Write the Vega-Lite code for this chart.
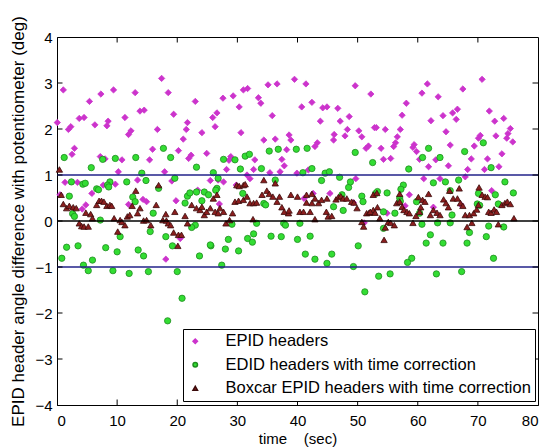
{
"$schema":"https://vega.github.io/schema/vega-lite/v6.json",
"width":481,"height":368,
"autosize":{"type":"none"},
"padding":{"left":57,"top":37,"right":9,"bottom":43},
"background":"white",
"config":{
 "view":{"stroke":"#000","strokeWidth":1},
 "font":"Liberation Sans",
 "axis":{"grid":false,"domainColor":"#000","tickColor":"#000","tickSize":5,"labelFont":"Liberation Sans","labelFontSize":15,"labelColor":"#000","titleFont":"Liberation Sans","titleFontSize":15,"titleFontWeight":"normal","titleColor":"#000"}
},
"layer":[
{
"data":{"values":[
{"t":0.05,"v":2.14,"s":"EPID headers"},{"t":1.05,"v":2.85,"s":"EPID headers"},{"t":1.9,"v":1.99,"s":"EPID headers"},{"t":2.3,"v":2.05,"s":"EPID headers"},{"t":2.5,"v":1.45,"s":"EPID headers"},{"t":2.9,"v":1.58,"s":"EPID headers"},{"t":3.7,"v":2.23,"s":"EPID headers"},{"t":4.5,"v":2.25,"s":"EPID headers"},{"t":5.4,"v":2.6,"s":"EPID headers"},{"t":6.3,"v":2.09,"s":"EPID headers"},{"t":7.2,"v":1.4,"s":"EPID headers"},{"t":7.3,"v":2.76,"s":"EPID headers"},{"t":8.0,"v":1.35,"s":"EPID headers"},{"t":8.3,"v":2.07,"s":"EPID headers"},{"t":8.5,"v":2.17,"s":"EPID headers"},{"t":9.4,"v":2.85,"s":"EPID headers"},{"t":10.2,"v":1.07,"s":"EPID headers"},{"t":10.8,"v":1.33,"s":"EPID headers"},{"t":11.3,"v":2.25,"s":"EPID headers"},{"t":11.9,"v":1.88,"s":"EPID headers"},{"t":12.3,"v":1.96,"s":"EPID headers"},{"t":13.0,"v":2.79,"s":"EPID headers"},{"t":13.4,"v":0.89,"s":"EPID headers"},{"t":13.8,"v":2.39,"s":"EPID headers"},{"t":14.5,"v":2.41,"s":"EPID headers"},{"t":15.4,"v":1.33,"s":"EPID headers"},{"t":15.9,"v":1.56,"s":"EPID headers"},{"t":16.7,"v":1.99,"s":"EPID headers"},{"t":17.4,"v":3.1,"s":"EPID headers"},{"t":17.9,"v":1.07,"s":"EPID headers"},{"t":18.5,"v":2.79,"s":"EPID headers"},{"t":19.4,"v":2.32,"s":"EPID headers"},{"t":20.2,"v":1.53,"s":"EPID headers"},{"t":21.0,"v":1.78,"s":"EPID headers"},{"t":21.5,"v":1.99,"s":"EPID headers"},{"t":21.7,"v":2.14,"s":"EPID headers"},{"t":21.9,"v":1.36,"s":"EPID headers"},{"t":22.3,"v":1.43,"s":"EPID headers"},{"t":23.0,"v":2.6,"s":"EPID headers"},{"t":24.1,"v":1.92,"s":"EPID headers"},{"t":24.9,"v":1.47,"s":"EPID headers"},{"t":25.5,"v":0.88,"s":"EPID headers"},{"t":25.9,"v":2.25,"s":"EPID headers"},{"t":26.3,"v":2.05,"s":"EPID headers"},{"t":26.6,"v":2.35,"s":"EPID headers"},{"t":1.33,"v":0.84,"s":"EPID headers"},{"t":3.4,"v":0.84,"s":"EPID headers"},{"t":5.8,"v":0.6,"s":"EPID headers"},{"t":4.8,"v":0.35,"s":"EPID headers"},{"t":4.2,"v":0.26,"s":"EPID headers"},{"t":7.7,"v":0.78,"s":"EPID headers"},{"t":9.7,"v":0.8,"s":"EPID headers"},{"t":14.3,"v":0.47,"s":"EPID headers"},{"t":14.9,"v":0.42,"s":"EPID headers"},{"t":11.9,"v":0.36,"s":"EPID headers"},{"t":19.1,"v":0.87,"s":"EPID headers"},{"t":19.8,"v":0.44,"s":"EPID headers"},{"t":23.4,"v":0.67,"s":"EPID headers"},{"t":20.5,"v":-0.38,"s":"EPID headers"},{"t":18.1,"v":-0.83,"s":"EPID headers"},{"t":0.5,"v":0.57,"s":"EPID headers"},{"t":27.6,"v":2.67,"s":"EPID headers"},{"t":29.3,"v":2.72,"s":"EPID headers"},{"t":30.3,"v":2.48,"s":"EPID headers"},{"t":31.0,"v":2.85,"s":"EPID headers"},{"t":31.7,"v":2.88,"s":"EPID headers"},{"t":30.6,"v":1.92,"s":"EPID headers"},{"t":33.5,"v":2.68,"s":"EPID headers"},{"t":33.9,"v":2.56,"s":"EPID headers"},{"t":34.4,"v":1.76,"s":"EPID headers"},{"t":35.1,"v":2.96,"s":"EPID headers"},{"t":35.8,"v":2.29,"s":"EPID headers"},{"t":36.3,"v":1.78,"s":"EPID headers"},{"t":36.6,"v":2.98,"s":"EPID headers"},{"t":38.2,"v":1.55,"s":"EPID headers"},{"t":38.6,"v":1.87,"s":"EPID headers"},{"t":38.9,"v":1.76,"s":"EPID headers"},{"t":39.5,"v":3.08,"s":"EPID headers"},{"t":40.7,"v":2.48,"s":"EPID headers"},{"t":41.4,"v":2.98,"s":"EPID headers"},{"t":42.4,"v":2.58,"s":"EPID headers"},{"t":42.9,"v":1.62,"s":"EPID headers"},{"t":43.3,"v":1.7,"s":"EPID headers"},{"t":43.8,"v":2.17,"s":"EPID headers"},{"t":44.2,"v":2.46,"s":"EPID headers"},{"t":44.9,"v":2.48,"s":"EPID headers"},{"t":46.0,"v":1.76,"s":"EPID headers"},{"t":46.1,"v":1.88,"s":"EPID headers"},{"t":46.7,"v":2.45,"s":"EPID headers"},{"t":47.1,"v":2.17,"s":"EPID headers"},{"t":47.9,"v":1.85,"s":"EPID headers"},{"t":48.3,"v":1.99,"s":"EPID headers"},{"t":48.6,"v":2.27,"s":"EPID headers"},{"t":49.6,"v":2.94,"s":"EPID headers"},{"t":50.2,"v":1.96,"s":"EPID headers"},{"t":50.7,"v":1.83,"s":"EPID headers"},{"t":51.4,"v":1.58,"s":"EPID headers"},{"t":51.8,"v":1.63,"s":"EPID headers"},{"t":52.2,"v":2.76,"s":"EPID headers"},{"t":52.8,"v":2.03,"s":"EPID headers"},{"t":53.1,"v":2.03,"s":"EPID headers"},{"t":28.2,"v":1.12,"s":"EPID headers"},{"t":28.6,"v":1.32,"s":"EPID headers"},{"t":28.9,"v":1.4,"s":"EPID headers"},{"t":32.9,"v":1.33,"s":"EPID headers"},{"t":32.7,"v":1.12,"s":"EPID headers"},{"t":37.4,"v":1.34,"s":"EPID headers"},{"t":37.8,"v":1.2,"s":"EPID headers"},{"t":35.4,"v":1.05,"s":"EPID headers"},{"t":37.1,"v":1.07,"s":"EPID headers"},{"t":31.6,"v":1.0,"s":"EPID headers"},{"t":39.9,"v":1.04,"s":"EPID headers"},{"t":41.8,"v":1.11,"s":"EPID headers"},{"t":54.6,"v":1.99,"s":"EPID headers"},{"t":53.9,"v":1.58,"s":"EPID headers"},{"t":54.3,"v":1.34,"s":"EPID headers"},{"t":55.5,"v":1.36,"s":"EPID headers"},{"t":56.0,"v":1.62,"s":"EPID headers"},{"t":56.3,"v":1.7,"s":"EPID headers"},{"t":56.6,"v":1.83,"s":"EPID headers"},{"t":57.1,"v":1.99,"s":"EPID headers"},{"t":57.4,"v":2.3,"s":"EPID headers"},{"t":58.1,"v":2.56,"s":"EPID headers"},{"t":59.2,"v":1.6,"s":"EPID headers"},{"t":59.4,"v":1.66,"s":"EPID headers"},{"t":59.8,"v":1.51,"s":"EPID headers"},{"t":60.3,"v":1.34,"s":"EPID headers"},{"t":60.7,"v":2.78,"s":"EPID headers"},{"t":61.6,"v":2.98,"s":"EPID headers"},{"t":61.8,"v":1.18,"s":"EPID headers"},{"t":62.2,"v":2.18,"s":"EPID headers"},{"t":63.0,"v":1.33,"s":"EPID headers"},{"t":63.4,"v":2.7,"s":"EPID headers"},{"t":64.2,"v":2.29,"s":"EPID headers"},{"t":64.7,"v":1.94,"s":"EPID headers"},{"t":65.1,"v":1.2,"s":"EPID headers"},{"t":65.4,"v":1.65,"s":"EPID headers"},{"t":65.8,"v":2.35,"s":"EPID headers"},{"t":66.4,"v":2.21,"s":"EPID headers"},{"t":66.6,"v":2.43,"s":"EPID headers"},{"t":67.5,"v":2.87,"s":"EPID headers"},{"t":68.3,"v":1.12,"s":"EPID headers"},{"t":68.9,"v":1.35,"s":"EPID headers"},{"t":69.4,"v":1.63,"s":"EPID headers"},{"t":70.1,"v":1.8,"s":"EPID headers"},{"t":70.4,"v":1.86,"s":"EPID headers"},{"t":70.7,"v":3.08,"s":"EPID headers"},{"t":71.1,"v":1.12,"s":"EPID headers"},{"t":71.6,"v":1.35,"s":"EPID headers"},{"t":71.9,"v":2.39,"s":"EPID headers"},{"t":72.8,"v":2.17,"s":"EPID headers"},{"t":73.0,"v":1.85,"s":"EPID headers"},{"t":73.5,"v":1.18,"s":"EPID headers"},{"t":74.0,"v":1.46,"s":"EPID headers"},{"t":74.3,"v":2.23,"s":"EPID headers"},{"t":74.8,"v":1.8,"s":"EPID headers"},{"t":75.0,"v":1.9,"s":"EPID headers"},{"t":75.4,"v":2.01,"s":"EPID headers"},{"t":75.8,"v":1.72,"s":"EPID headers"},{"t":61.0,"v":0.92,"s":"EPID headers"},{"t":63.7,"v":0.92,"s":"EPID headers"},{"t":67.9,"v":0.96,"s":"EPID headers"},{"t":26.8,"v":0.89,"s":"EPID headers"},{"t":27.7,"v":0.85,"s":"EPID headers"},{"t":29.8,"v":0.78,"s":"EPID headers"},{"t":32.1,"v":0.92,"s":"EPID headers"},{"t":27.0,"v":0.37,"s":"EPID headers"},{"t":42.6,"v":0.6,"s":"EPID headers"},{"t":45.4,"v":0.6,"s":"EPID headers"},{"t":49.7,"v":0.92,"s":"EPID headers"},{"t":49.3,"v":0.4,"s":"EPID headers"},{"t":51.1,"v":-0.04,"s":"EPID headers"},{"t":41.1,"v":0.49,"s":"EPID headers"},{"t":58.6,"v":0.57,"s":"EPID headers"},{"t":57.9,"v":0.33,"s":"EPID headers"},{"t":62.6,"v":0.3,"s":"EPID headers"},{"t":67.2,"v":0.35,"s":"EPID headers"},{"t":72.3,"v":0.66,"s":"EPID headers"},{"t":54.9,"v":0.17,"s":"EPID headers"},
{"t":1.2,"v":1.38,"s":"EDID headers with time correction"},{"t":5.7,"v":1.16,"s":"EDID headers with time correction"},{"t":7.6,"v":1.34,"s":"EDID headers with time correction"},{"t":9.7,"v":1.36,"s":"EDID headers with time correction"},{"t":13.1,"v":1.38,"s":"EDID headers with time correction"},{"t":14.1,"v":1.04,"s":"EDID headers with time correction"},{"t":14.8,"v":0.88,"s":"EDID headers with time correction"},{"t":17.7,"v":1.58,"s":"EDID headers with time correction"},{"t":18.9,"v":1.38,"s":"EDID headers with time correction"},{"t":19.6,"v":0.93,"s":"EDID headers with time correction"},{"t":23.2,"v":1.17,"s":"EDID headers with time correction"},{"t":26.0,"v":1.05,"s":"EDID headers with time correction"},{"t":26.8,"v":0.93,"s":"EDID headers with time correction"},{"t":2.4,"v":0.85,"s":"EDID headers with time correction"},{"t":4.3,"v":0.8,"s":"EDID headers with time correction"},{"t":4.7,"v":0.82,"s":"EDID headers with time correction"},{"t":11.6,"v":0.85,"s":"EDID headers with time correction"},{"t":8.8,"v":0.85,"s":"EDID headers with time correction"},{"t":2.05,"v":0.54,"s":"EDID headers with time correction"},{"t":2.6,"v":0.16,"s":"EDID headers with time correction"},{"t":2.9,"v":0.1,"s":"EDID headers with time correction"},{"t":7.2,"v":0.02,"s":"EDID headers with time correction"},{"t":6.6,"v":0.7,"s":"EDID headers with time correction"},{"t":6.9,"v":0.68,"s":"EDID headers with time correction"},{"t":8.4,"v":0.78,"s":"EDID headers with time correction"},{"t":8.6,"v":0.74,"s":"EDID headers with time correction"},{"t":12.6,"v":0.52,"s":"EDID headers with time correction"},{"t":13.0,"v":0.42,"s":"EDID headers with time correction"},{"t":16.0,"v":0.17,"s":"EDID headers with time correction"},{"t":16.9,"v":0.71,"s":"EDID headers with time correction"},{"t":21.3,"v":0.39,"s":"EDID headers with time correction"},{"t":21.7,"v":0.54,"s":"EDID headers with time correction"},{"t":22.1,"v":0.61,"s":"EDID headers with time correction"},{"t":23.2,"v":0.63,"s":"EDID headers with time correction"},{"t":24.1,"v":0.44,"s":"EDID headers with time correction"},{"t":24.5,"v":0.63,"s":"EDID headers with time correction"},{"t":23.0,"v":-0.09,"s":"EDID headers with time correction"},{"t":22.4,"v":-0.14,"s":"EDID headers with time correction"},{"t":25.2,"v":0.57,"s":"EDID headers with time correction"},{"t":26.6,"v":0.71,"s":"EDID headers with time correction"},{"t":10.5,"v":-0.34,"s":"EDID headers with time correction"},{"t":15.5,"v":-0.23,"s":"EDID headers with time correction"},{"t":18.1,"v":-0.34,"s":"EDID headers with time correction"},{"t":1.6,"v":-0.57,"s":"EDID headers with time correction"},{"t":3.5,"v":-0.54,"s":"EDID headers with time correction"},{"t":0.8,"v":-0.81,"s":"EDID headers with time correction"},{"t":5.9,"v":-0.85,"s":"EDID headers with time correction"},{"t":8.1,"v":-0.58,"s":"EDID headers with time correction"},{"t":10.0,"v":-0.67,"s":"EDID headers with time correction"},{"t":13.5,"v":-0.63,"s":"EDID headers with time correction"},{"t":14.4,"v":-0.76,"s":"EDID headers with time correction"},{"t":19.2,"v":-0.54,"s":"EDID headers with time correction"},{"t":23.7,"v":-0.76,"s":"EDID headers with time correction"},{"t":25.6,"v":-0.54,"s":"EDID headers with time correction"},{"t":4.4,"v":-0.96,"s":"EDID headers with time correction"},{"t":5.2,"v":-1.08,"s":"EDID headers with time correction"},{"t":9.3,"v":-1.08,"s":"EDID headers with time correction"},{"t":12.0,"v":-1.14,"s":"EDID headers with time correction"},{"t":15.2,"v":-1.1,"s":"EDID headers with time correction"},{"t":20.0,"v":-1.1,"s":"EDID headers with time correction"},{"t":20.8,"v":-1.68,"s":"EDID headers with time correction"},{"t":18.4,"v":-2.17,"s":"EDID headers with time correction"},{"t":26.4,"v":0.67,"s":"EDID headers with time correction"},{"t":30.9,"v":0.6,"s":"EDID headers with time correction"},{"t":34.4,"v":0.38,"s":"EDID headers with time correction"},{"t":34.7,"v":0.35,"s":"EDID headers with time correction"},{"t":37.7,"v":-0.05,"s":"EDID headers with time correction"},{"t":38.0,"v":-0.09,"s":"EDID headers with time correction"},{"t":40.4,"v":-0.05,"s":"EDID headers with time correction"},{"t":44.0,"v":0.88,"s":"EDID headers with time correction"},{"t":44.6,"v":1.04,"s":"EDID headers with time correction"},{"t":48.5,"v":0.73,"s":"EDID headers with time correction"},{"t":48.8,"v":0.85,"s":"EDID headers with time correction"},{"t":47.4,"v":0.57,"s":"EDID headers with time correction"},{"t":50.7,"v":0.54,"s":"EDID headers with time correction"},{"t":50.9,"v":0.42,"s":"EDID headers with time correction"},{"t":47.6,"v":0.23,"s":"EDID headers with time correction"},{"t":46.0,"v":0.31,"s":"EDID headers with time correction"},{"t":33.2,"v":-0.05,"s":"EDID headers with time correction"},{"t":29.1,"v":-0.07,"s":"EDID headers with time correction"},{"t":25.5,"v":-0.52,"s":"EDID headers with time correction"},{"t":28.5,"v":-0.4,"s":"EDID headers with time correction"},{"t":28.0,"v":-0.61,"s":"EDID headers with time correction"},{"t":30.2,"v":-0.65,"s":"EDID headers with time correction"},{"t":31.7,"v":-0.38,"s":"EDID headers with time correction"},{"t":32.7,"v":-0.28,"s":"EDID headers with time correction"},{"t":32.5,"v":-0.46,"s":"EDID headers with time correction"},{"t":35.6,"v":-0.33,"s":"EDID headers with time correction"},{"t":37.3,"v":-0.34,"s":"EDID headers with time correction"},{"t":40.0,"v":-0.4,"s":"EDID headers with time correction"},{"t":42.1,"v":-0.33,"s":"EDID headers with time correction"},{"t":41.3,"v":-0.72,"s":"EDID headers with time correction"},{"t":42.9,"v":-0.83,"s":"EDID headers with time correction"},{"t":44.9,"v":-0.92,"s":"EDID headers with time correction"},{"t":45.7,"v":-0.72,"s":"EDID headers with time correction"},{"t":50.1,"v":-0.54,"s":"EDID headers with time correction"},{"t":27.4,"v":-0.96,"s":"EDID headers with time correction"},{"t":49.3,"v":-0.99,"s":"EDID headers with time correction"},{"t":53.5,"v":-1.2,"s":"EDID headers with time correction"},{"t":51.2,"v":-1.54,"s":"EDID headers with time correction"},{"t":57.6,"v":0.78,"s":"EDID headers with time correction"},{"t":62.6,"v":0.83,"s":"EDID headers with time correction"},{"t":64.6,"v":0.85,"s":"EDID headers with time correction"},{"t":66.8,"v":0.89,"s":"EDID headers with time correction"},{"t":74.5,"v":0.85,"s":"EDID headers with time correction"},{"t":53.0,"v":0.6,"s":"EDID headers with time correction"},{"t":53.3,"v":0.64,"s":"EDID headers with time correction"},{"t":54.9,"v":0.61,"s":"EDID headers with time correction"},{"t":57.0,"v":0.5,"s":"EDID headers with time correction"},{"t":57.1,"v":0.43,"s":"EDID headers with time correction"},{"t":57.2,"v":0.69,"s":"EDID headers with time correction"},{"t":59.8,"v":0.42,"s":"EDID headers with time correction"},{"t":60.3,"v":0.17,"s":"EDID headers with time correction"},{"t":56.2,"v":0.17,"s":"EDID headers with time correction"},{"t":54.3,"v":0.2,"s":"EDID headers with time correction"},{"t":54.3,"v":-0.16,"s":"EDID headers with time correction"},{"t":60.7,"v":-0.07,"s":"EDID headers with time correction"},{"t":63.3,"v":-0.04,"s":"EDID headers with time correction"},{"t":65.4,"v":-0.04,"s":"EDID headers with time correction"},{"t":65.7,"v":0.13,"s":"EDID headers with time correction"},{"t":65.4,"v":0.66,"s":"EDID headers with time correction"},{"t":70.1,"v":0.6,"s":"EDID headers with time correction"},{"t":69.9,"v":0.37,"s":"EDID headers with time correction"},{"t":70.3,"v":0.34,"s":"EDID headers with time correction"},{"t":72.9,"v":0.57,"s":"EDID headers with time correction"},{"t":73.4,"v":0.37,"s":"EDID headers with time correction"},{"t":75.9,"v":0.61,"s":"EDID headers with time correction"},{"t":74.3,"v":-0.13,"s":"EDID headers with time correction"},{"t":71.8,"v":-0.11,"s":"EDID headers with time correction"},{"t":68.6,"v":-0.25,"s":"EDID headers with time correction"},{"t":62.1,"v":-0.3,"s":"EDID headers with time correction"},{"t":61.4,"v":-0.48,"s":"EDID headers with time correction"},{"t":64.2,"v":-0.48,"s":"EDID headers with time correction"},{"t":68.2,"v":-0.48,"s":"EDID headers with time correction"},{"t":71.4,"v":-0.34,"s":"EDID headers with time correction"},{"t":59.0,"v":-0.81,"s":"EDID headers with time correction"},{"t":58.3,"v":-0.9,"s":"EDID headers with time correction"},{"t":72.6,"v":-0.81,"s":"EDID headers with time correction"},{"t":55.4,"v":-1.15,"s":"EDID headers with time correction"},{"t":63.1,"v":-1.15,"s":"EDID headers with time correction"},{"t":67.3,"v":-1.1,"s":"EDID headers with time correction"},{"t":52.5,"v":1.27,"s":"EDID headers with time correction"},{"t":58.5,"v":1.13,"s":"EDID headers with time correction"},{"t":60.8,"v":1.38,"s":"EDID headers with time correction"},{"t":61.8,"v":1.58,"s":"EDID headers with time correction"},{"t":63.7,"v":1.38,"s":"EDID headers with time correction"},{"t":67.8,"v":1.51,"s":"EDID headers with time correction"},{"t":70.9,"v":1.7,"s":"EDID headers with time correction"},{"t":72.2,"v":1.16,"s":"EDID headers with time correction"},{"t":27.7,"v":1.34,"s":"EDID headers with time correction"},{"t":29.6,"v":1.33,"s":"EDID headers with time correction"},{"t":31.3,"v":1.41,"s":"EDID headers with time correction"},{"t":32.0,"v":1.45,"s":"EDID headers with time correction"},{"t":30.5,"v":1.13,"s":"EDID headers with time correction"},{"t":34.0,"v":1.14,"s":"EDID headers with time correction"},{"t":35.3,"v":1.52,"s":"EDID headers with time correction"},{"t":36.8,"v":1.56,"s":"EDID headers with time correction"},{"t":39.8,"v":1.56,"s":"EDID headers with time correction"},{"t":41.6,"v":1.58,"s":"EDID headers with time correction"},{"t":42.4,"v":1.14,"s":"EDID headers with time correction"},{"t":40.9,"v":1.05,"s":"EDID headers with time correction"},{"t":36.3,"v":0.89,"s":"EDID headers with time correction"},{"t":45.3,"v":1.07,"s":"EDID headers with time correction"},{"t":47.0,"v":0.95,"s":"EDID headers with time correction"},{"t":49.6,"v":1.49,"s":"EDID headers with time correction"},
{"t":0.4,"v":1.12,"s":"Boxcar EPID headers with time correction"},{"t":0.7,"v":0.57,"s":"Boxcar EPID headers with time correction"},{"t":1.05,"v":0.37,"s":"Boxcar EPID headers with time correction"},{"t":1.6,"v":0.28,"s":"Boxcar EPID headers with time correction"},{"t":2.05,"v":0.33,"s":"Boxcar EPID headers with time correction"},{"t":2.7,"v":0.3,"s":"Boxcar EPID headers with time correction"},{"t":3.2,"v":0.28,"s":"Boxcar EPID headers with time correction"},{"t":3.7,"v":-0.05,"s":"Boxcar EPID headers with time correction"},{"t":4.1,"v":-0.11,"s":"Boxcar EPID headers with time correction"},{"t":4.5,"v":-0.12,"s":"Boxcar EPID headers with time correction"},{"t":5.2,"v":-0.12,"s":"Boxcar EPID headers with time correction"},{"t":4.8,"v":0.18,"s":"Boxcar EPID headers with time correction"},{"t":5.6,"v":0.15,"s":"Boxcar EPID headers with time correction"},{"t":5.9,"v":0.06,"s":"Boxcar EPID headers with time correction"},{"t":6.6,"v":0.35,"s":"Boxcar EPID headers with time correction"},{"t":7.0,"v":0.44,"s":"Boxcar EPID headers with time correction"},{"t":7.4,"v":0.44,"s":"Boxcar EPID headers with time correction"},{"t":7.8,"v":0.42,"s":"Boxcar EPID headers with time correction"},{"t":8.3,"v":0.33,"s":"Boxcar EPID headers with time correction"},{"t":8.8,"v":0.35,"s":"Boxcar EPID headers with time correction"},{"t":9.1,"v":0.33,"s":"Boxcar EPID headers with time correction"},{"t":9.5,"v":0.06,"s":"Boxcar EPID headers with time correction"},{"t":10.1,"v":-0.23,"s":"Boxcar EPID headers with time correction"},{"t":10.5,"v":0.02,"s":"Boxcar EPID headers with time correction"},{"t":10.8,"v":-0.02,"s":"Boxcar EPID headers with time correction"},{"t":11.3,"v":-0.09,"s":"Boxcar EPID headers with time correction"},{"t":11.7,"v":0.1,"s":"Boxcar EPID headers with time correction"},{"t":12.1,"v":0.13,"s":"Boxcar EPID headers with time correction"},{"t":12.5,"v":0.33,"s":"Boxcar EPID headers with time correction"},{"t":13.4,"v":0.17,"s":"Boxcar EPID headers with time correction"},{"t":13.8,"v":0.28,"s":"Boxcar EPID headers with time correction"},{"t":13.1,"v":0.66,"s":"Boxcar EPID headers with time correction"},{"t":14.4,"v":0.01,"s":"Boxcar EPID headers with time correction"},{"t":14.9,"v":0.02,"s":"Boxcar EPID headers with time correction"},{"t":15.6,"v":-0.09,"s":"Boxcar EPID headers with time correction"},{"t":16.5,"v":0.35,"s":"Boxcar EPID headers with time correction"},{"t":16.9,"v":0.78,"s":"Boxcar EPID headers with time correction"},{"t":17.6,"v":0.02,"s":"Boxcar EPID headers with time correction"},{"t":18.2,"v":0.01,"s":"Boxcar EPID headers with time correction"},{"t":18.5,"v":-0.05,"s":"Boxcar EPID headers with time correction"},{"t":18.1,"v":0.15,"s":"Boxcar EPID headers with time correction"},{"t":18.9,"v":-0.09,"s":"Boxcar EPID headers with time correction"},{"t":19.4,"v":-0.25,"s":"Boxcar EPID headers with time correction"},{"t":19.6,"v":0.2,"s":"Boxcar EPID headers with time correction"},{"t":20.2,"v":-0.3,"s":"Boxcar EPID headers with time correction"},{"t":20.7,"v":-0.3,"s":"Boxcar EPID headers with time correction"},{"t":20.1,"v":-0.54,"s":"Boxcar EPID headers with time correction"},{"t":21.3,"v":0.11,"s":"Boxcar EPID headers with time correction"},{"t":21.7,"v":-0.05,"s":"Boxcar EPID headers with time correction"},{"t":22.4,"v":0.35,"s":"Boxcar EPID headers with time correction"},{"t":23.2,"v":0.28,"s":"Boxcar EPID headers with time correction"},{"t":23.8,"v":0.24,"s":"Boxcar EPID headers with time correction"},{"t":24.1,"v":0.31,"s":"Boxcar EPID headers with time correction"},{"t":24.5,"v":0.13,"s":"Boxcar EPID headers with time correction"},{"t":24.9,"v":0.2,"s":"Boxcar EPID headers with time correction"},{"t":25.5,"v":0.28,"s":"Boxcar EPID headers with time correction"},{"t":26.0,"v":0.49,"s":"Boxcar EPID headers with time correction"},{"t":26.3,"v":0.2,"s":"Boxcar EPID headers with time correction"},{"t":26.8,"v":0.17,"s":"Boxcar EPID headers with time correction"},{"t":26.6,"v":0.57,"s":"Boxcar EPID headers with time correction"},{"t":27.1,"v":0.28,"s":"Boxcar EPID headers with time correction"},{"t":27.7,"v":0.2,"s":"Boxcar EPID headers with time correction"},{"t":28.1,"v":-0.05,"s":"Boxcar EPID headers with time correction"},{"t":28.7,"v":0.02,"s":"Boxcar EPID headers with time correction"},{"t":29.2,"v":0.17,"s":"Boxcar EPID headers with time correction"},{"t":29.9,"v":0.78,"s":"Boxcar EPID headers with time correction"},{"t":30.3,"v":0.76,"s":"Boxcar EPID headers with time correction"},{"t":31.0,"v":0.78,"s":"Boxcar EPID headers with time correction"},{"t":31.3,"v":0.8,"s":"Boxcar EPID headers with time correction"},{"t":29.6,"v":0.42,"s":"Boxcar EPID headers with time correction"},{"t":30.2,"v":0.44,"s":"Boxcar EPID headers with time correction"},{"t":31.0,"v":0.46,"s":"Boxcar EPID headers with time correction"},{"t":31.6,"v":0.53,"s":"Boxcar EPID headers with time correction"},{"t":32.1,"v":0.39,"s":"Boxcar EPID headers with time correction"},{"t":32.7,"v":0.39,"s":"Boxcar EPID headers with time correction"},{"t":33.2,"v":0.4,"s":"Boxcar EPID headers with time correction"},{"t":32.6,"v":0.04,"s":"Boxcar EPID headers with time correction"},{"t":34.1,"v":0.57,"s":"Boxcar EPID headers with time correction"},{"t":34.4,"v":0.89,"s":"Boxcar EPID headers with time correction"},{"t":34.9,"v":0.66,"s":"Boxcar EPID headers with time correction"},{"t":35.3,"v":0.59,"s":"Boxcar EPID headers with time correction"},{"t":35.9,"v":0.53,"s":"Boxcar EPID headers with time correction"},{"t":36.3,"v":0.82,"s":"Boxcar EPID headers with time correction"},{"t":36.6,"v":0.42,"s":"Boxcar EPID headers with time correction"},{"t":37.0,"v":0.53,"s":"Boxcar EPID headers with time correction"},{"t":37.4,"v":0.3,"s":"Boxcar EPID headers with time correction"},{"t":37.8,"v":0.2,"s":"Boxcar EPID headers with time correction"},{"t":38.5,"v":0.17,"s":"Boxcar EPID headers with time correction"},{"t":38.6,"v":0.23,"s":"Boxcar EPID headers with time correction"},{"t":38.9,"v":0.57,"s":"Boxcar EPID headers with time correction"},{"t":40.0,"v":0.53,"s":"Boxcar EPID headers with time correction"},{"t":40.4,"v":0.2,"s":"Boxcar EPID headers with time correction"},{"t":41.0,"v":0.2,"s":"Boxcar EPID headers with time correction"},{"t":41.5,"v":0.57,"s":"Boxcar EPID headers with time correction"},{"t":42.4,"v":0.59,"s":"Boxcar EPID headers with time correction"},{"t":42.9,"v":0.49,"s":"Boxcar EPID headers with time correction"},{"t":41.5,"v":0.4,"s":"Boxcar EPID headers with time correction"},{"t":42.4,"v":0.39,"s":"Boxcar EPID headers with time correction"},{"t":42.1,"v":0.2,"s":"Boxcar EPID headers with time correction"},{"t":42.9,"v":0.04,"s":"Boxcar EPID headers with time correction"},{"t":43.5,"v":0.39,"s":"Boxcar EPID headers with time correction"},{"t":44.0,"v":0.46,"s":"Boxcar EPID headers with time correction"},{"t":44.9,"v":0.49,"s":"Boxcar EPID headers with time correction"},{"t":44.8,"v":0.2,"s":"Boxcar EPID headers with time correction"},{"t":45.1,"v":0.1,"s":"Boxcar EPID headers with time correction"},{"t":45.7,"v":0.11,"s":"Boxcar EPID headers with time correction"},{"t":46.4,"v":0.47,"s":"Boxcar EPID headers with time correction"},{"t":46.8,"v":0.52,"s":"Boxcar EPID headers with time correction"},{"t":47.2,"v":0.54,"s":"Boxcar EPID headers with time correction"},{"t":47.6,"v":0.49,"s":"Boxcar EPID headers with time correction"},{"t":48.2,"v":0.49,"s":"Boxcar EPID headers with time correction"},{"t":49.0,"v":0.42,"s":"Boxcar EPID headers with time correction"},{"t":49.4,"v":0.4,"s":"Boxcar EPID headers with time correction"},{"t":49.9,"v":0.28,"s":"Boxcar EPID headers with time correction"},{"t":50.7,"v":-0.02,"s":"Boxcar EPID headers with time correction"},{"t":51.0,"v":-0.12,"s":"Boxcar EPID headers with time correction"},{"t":51.5,"v":0.17,"s":"Boxcar EPID headers with time correction"},{"t":51.9,"v":0.18,"s":"Boxcar EPID headers with time correction"},{"t":52.6,"v":0.24,"s":"Boxcar EPID headers with time correction"},{"t":52.6,"v":0.57,"s":"Boxcar EPID headers with time correction"},{"t":53.2,"v":0.61,"s":"Boxcar EPID headers with time correction"},{"t":52.1,"v":0.2,"s":"Boxcar EPID headers with time correction"},{"t":52.9,"v":0.18,"s":"Boxcar EPID headers with time correction"},{"t":53.3,"v":0.3,"s":"Boxcar EPID headers with time correction"},{"t":53.7,"v":0.06,"s":"Boxcar EPID headers with time correction"},{"t":54.6,"v":-0.14,"s":"Boxcar EPID headers with time correction"},{"t":54.4,"v":-0.41,"s":"Boxcar EPID headers with time correction"},{"t":55.1,"v":-0.02,"s":"Boxcar EPID headers with time correction"},{"t":55.5,"v":-0.04,"s":"Boxcar EPID headers with time correction"},{"t":56.1,"v":-0.09,"s":"Boxcar EPID headers with time correction"},{"t":56.5,"v":0.39,"s":"Boxcar EPID headers with time correction"},{"t":57.0,"v":0.42,"s":"Boxcar EPID headers with time correction"},{"t":57.4,"v":0.31,"s":"Boxcar EPID headers with time correction"},{"t":57.7,"v":0.24,"s":"Boxcar EPID headers with time correction"},{"t":57.0,"v":0.59,"s":"Boxcar EPID headers with time correction"},{"t":58.2,"v":0.2,"s":"Boxcar EPID headers with time correction"},{"t":58.6,"v":0.17,"s":"Boxcar EPID headers with time correction"},{"t":59.2,"v":-0.04,"s":"Boxcar EPID headers with time correction"},{"t":59.7,"v":0.11,"s":"Boxcar EPID headers with time correction"},{"t":60.3,"v":0.2,"s":"Boxcar EPID headers with time correction"},{"t":60.1,"v":0.52,"s":"Boxcar EPID headers with time correction"},{"t":60.8,"v":0.46,"s":"Boxcar EPID headers with time correction"},{"t":61.2,"v":0.42,"s":"Boxcar EPID headers with time correction"},{"t":60.5,"v":0.3,"s":"Boxcar EPID headers with time correction"},{"t":61.8,"v":0.59,"s":"Boxcar EPID headers with time correction"},{"t":62.1,"v":0.13,"s":"Boxcar EPID headers with time correction"},{"t":62.6,"v":0.24,"s":"Boxcar EPID headers with time correction"},{"t":63.2,"v":0.18,"s":"Boxcar EPID headers with time correction"},{"t":63.7,"v":0.13,"s":"Boxcar EPID headers with time correction"},{"t":64.3,"v":0.47,"s":"Boxcar EPID headers with time correction"},{"t":64.7,"v":0.39,"s":"Boxcar EPID headers with time correction"},{"t":65.1,"v":0.3,"s":"Boxcar EPID headers with time correction"},{"t":65.3,"v":0.66,"s":"Boxcar EPID headers with time correction"},{"t":65.9,"v":0.49,"s":"Boxcar EPID headers with time correction"},{"t":66.6,"v":0.49,"s":"Boxcar EPID headers with time correction"},{"t":67.1,"v":0.39,"s":"Boxcar EPID headers with time correction"},{"t":67.5,"v":0.33,"s":"Boxcar EPID headers with time correction"},{"t":66.9,"v":0.71,"s":"Boxcar EPID headers with time correction"},{"t":67.9,"v":0.13,"s":"Boxcar EPID headers with time correction"},{"t":68.6,"v":0.13,"s":"Boxcar EPID headers with time correction"},{"t":69.3,"v":0.17,"s":"Boxcar EPID headers with time correction"},{"t":68.2,"v":-0.13,"s":"Boxcar EPID headers with time correction"},{"t":69.0,"v":-0.04,"s":"Boxcar EPID headers with time correction"},{"t":69.8,"v":0.25,"s":"Boxcar EPID headers with time correction"},{"t":70.1,"v":0.35,"s":"Boxcar EPID headers with time correction"},{"t":70.2,"v":0.73,"s":"Boxcar EPID headers with time correction"},{"t":70.7,"v":0.57,"s":"Boxcar EPID headers with time correction"},{"t":71.2,"v":0.53,"s":"Boxcar EPID headers with time correction"},{"t":71.6,"v":0.52,"s":"Boxcar EPID headers with time correction"},{"t":71.8,"v":0.2,"s":"Boxcar EPID headers with time correction"},{"t":72.2,"v":0.18,"s":"Boxcar EPID headers with time correction"},{"t":72.7,"v":0.25,"s":"Boxcar EPID headers with time correction"},{"t":73.1,"v":0.2,"s":"Boxcar EPID headers with time correction"},{"t":73.4,"v":-0.07,"s":"Boxcar EPID headers with time correction"},{"t":74.0,"v":0.35,"s":"Boxcar EPID headers with time correction"},{"t":74.5,"v":0.39,"s":"Boxcar EPID headers with time correction"},{"t":74.9,"v":0.42,"s":"Boxcar EPID headers with time correction"},{"t":75.4,"v":0.37,"s":"Boxcar EPID headers with time correction"},{"t":76.0,"v":0.06,"s":"Boxcar EPID headers with time correction"}
]},
"mark":{"type":"point","filled":true,"size":40,"strokeWidth":0.8,"opacity":1},
"encoding":{
 "x":{"field":"t","type":"quantitative","scale":{"domain":[0,80],"nice":false},"axis":{"orient":"bottom","values":[0,10,20,30,40,50,60,70,80],"ticks":false,"labelPadding":8,"title":"time\u00a0\u00a0\u00a0 (sec)","titlePadding":3}},
 "y":{"field":"v","type":"quantitative","scale":{"domain":[-4,4],"nice":false},"axis":{"orient":"left","values":[-4,-3,-2,-1,0,1,2,3,4],"ticks":false,"labelPadding":5,"title":"EPID header angle difference with potentiometer (deg)","titlePadding":7,"titleFontSize":17}},
 "color":{"field":"s","type":"nominal","scale":{"domain":["EPID headers","EDID headers with time correction","Boxcar EPID headers with time correction"],"range":["#CC33CC","#33DD33","#8B1E1E"]},
  "legend":{"title":null,"orient":"none","legendX":126,"legendY":292,"strokeColor":"#000","fillColor":"#fff","padding":4,"labelFontSize":16.5,"labelFont":"Liberation Sans","labelColor":"#000","labelOffset":22,"labelLimit":1000,"rowPadding":6.5,"symbolSize":20}},
 "stroke":{"field":"s","type":"nominal","scale":{"domain":["EPID headers","EDID headers with time correction","Boxcar EPID headers with time correction"],"range":["#CC33CC","#1E8C1E","#3A0A0A"]},
  "legend":{"title":null,"orient":"none","legendX":126,"legendY":292,"strokeColor":"#000","fillColor":"#fff","padding":4,"labelFontSize":16.5,"labelFont":"Liberation Sans","labelColor":"#000","labelOffset":22,"labelLimit":1000,"rowPadding":6.5,"symbolSize":20}},
 "shape":{"field":"s","type":"nominal","scale":{"domain":["EPID headers","EDID headers with time correction","Boxcar EPID headers with time correction"],"range":["diamond","circle","triangle-up"]},
  "legend":{"title":null,"orient":"none","legendX":126,"legendY":292,"strokeColor":"#000","fillColor":"#fff","padding":4,"labelFontSize":16.5,"labelFont":"Liberation Sans","labelColor":"#000","labelOffset":22,"labelLimit":1000,"rowPadding":6.5,"symbolSize":20}}
}
},
{
"data":{"values":[{"level":1},{"level":-1}]},
"mark":{"type":"rule","color":"#22228A","strokeWidth":1.5},
"encoding":{"y":{"field":"level","type":"quantitative"}}
},
{
"data":{"values":[{"level":0}]},
"mark":{"type":"rule","color":"#000","strokeWidth":1.5},
"encoding":{"y":{"field":"level","type":"quantitative"}}
},
{
"data":{"values":[{"t":10,"v":-4},{"t":20,"v":-4},{"t":30,"v":-4},{"t":40,"v":-4},{"t":50,"v":-4},{"t":60,"v":-4},{"t":70,"v":-4},{"t":10,"v":4},{"t":20,"v":4},{"t":30,"v":4},{"t":40,"v":4},{"t":50,"v":4},{"t":60,"v":4},{"t":70,"v":4}]},
"mark":{"type":"tick","orient":"vertical","size":11,"thickness":1,"color":"#000","opacity":1,"clip":true},
"encoding":{"x":{"field":"t","type":"quantitative"},"y":{"field":"v","type":"quantitative"}}
},
{
"data":{"values":[{"t":0,"v":-3},{"t":0,"v":-2},{"t":0,"v":-1},{"t":0,"v":0},{"t":0,"v":1},{"t":0,"v":2},{"t":0,"v":3},{"t":80,"v":-3},{"t":80,"v":-2},{"t":80,"v":-1},{"t":80,"v":0},{"t":80,"v":1},{"t":80,"v":2},{"t":80,"v":3}]},
"mark":{"type":"tick","orient":"horizontal","size":11,"thickness":1,"color":"#000","opacity":1,"clip":true},
"encoding":{"x":{"field":"t","type":"quantitative"},"y":{"field":"v","type":"quantitative"}}
}
]
}
